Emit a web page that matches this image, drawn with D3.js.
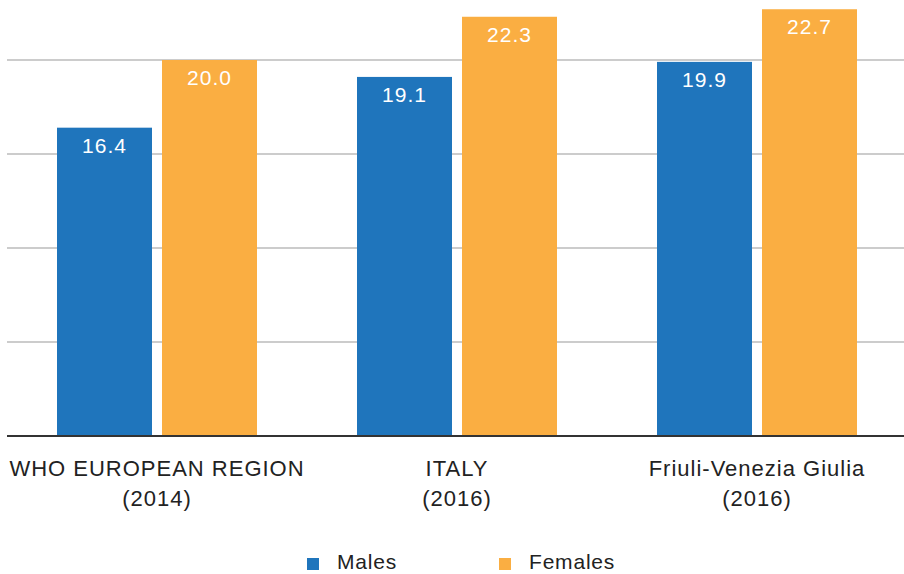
<!DOCTYPE html>
<html>
<head>
<meta charset="utf-8">
<script src="https://cdn.jsdelivr.net/npm/d3@7"></script>
<style>
  body { margin: 0; background: #fff; }
  text { font-family: "Liberation Sans", Arial, sans-serif; }
</style>
</head>
<body>
<div id="chart"></div>
<script>
// categories (two lines each) and series values
var categories = ["WHO EUROPEAN REGION|(2014)", "ITALY|(2016)", "Friuli-Venezia Giulia|(2016)"];
var males = [16.4, 19.1, 19.9];
var females = [20.0, 22.3, 22.7];
var seriesNames = ["Males", "Females"];
var gridTicks = [0, 5, 10, 15, 20];

var colors = {"Males": "#1f75bc", "Females": "#faae42"};

var width = 904, height = 574;
var svg = d3.select("#chart").append("svg")
    .attr("width", width)
    .attr("height", height);

var data = categories.map(function(c, i) {
    return {cat: c, Males: males[i], Females: females[i]};
});

// outer band for groups, inner band for the two bars
var x = d3.scaleBand()
    .domain(categories)
    .range([7, 907]);

var xInner = d3.scaleBand()
    .domain(seriesNames)
    .range([0, x.bandwidth()])
    .paddingInner(10 / 105)
    .paddingOuter(50 / 105);

var y = d3.scaleLinear()
    .domain([0, 20])
    .range([436, 60]);

// gridlines
svg.append("g").selectAll("line")
    .data(gridTicks.filter(function(d) { return d > 0; }))
    .enter().append("line")
    .attr("x1", 7)
    .attr("x2", width)
    .attr("y1", function(d) { return y(d); })
    .attr("y2", function(d) { return y(d); })
    .attr("stroke", "#9a9a9a")
    .attr("stroke-width", 1.2);

var groups = svg.selectAll(".grp")
    .data(data)
    .enter().append("g")
    .attr("class", "grp")
    .attr("transform", function(d) { return "translate(" + x(d.cat) + ",0)"; });

groups.selectAll("rect")
    .data(function(d) { return seriesNames.map(function(k) { return {key: k, value: d[k]}; }); })
    .enter().append("rect")
    .attr("x", function(d) { return xInner(d.key); })
    .attr("y", function(d) { return y(d.value); })
    .attr("width", xInner.bandwidth())
    .attr("height", function(d) { return y(0) - y(d.value); })
    .attr("fill", function(d) { return colors[d.key]; });

// value labels inside bars
groups.selectAll(".val")
    .data(function(d) { return seriesNames.map(function(k) { return {key: k, value: d[k]}; }); })
    .enter().append("text")
    .attr("class", "val")
    .attr("x", function(d) { return xInner(d.key) + xInner.bandwidth() / 2; })
    .attr("y", function(d) { return y(d.value) + 25; })
    .attr("text-anchor", "middle")
    .attr("fill", "#fff")
    .style("font-size", "21px")
    .style("letter-spacing", "1px")
    .text(function(d) { return d.value.toFixed(1); });

// baseline
svg.append("line")
    .attr("x1", 7).attr("x2", width)
    .attr("y1", y(0)).attr("y2", y(0))
    .attr("stroke", "#333")
    .attr("stroke-width", 2.2);

// category labels
var catLabels = svg.selectAll(".cat")
    .data(categories)
    .enter().append("text")
    .attr("class", "cat")
    .attr("text-anchor", "middle")
    .attr("fill", "#222")
    .style("font-size", "22px")
    .style("letter-spacing", "1px");
catLabels.each(function(c) {
    var parts = c.split("|");
    var t = d3.select(this);
    parts.forEach(function(p, i) {
        t.append("tspan")
            .attr("x", x(c) + x.bandwidth() / 2)
            .attr("y", 476 + i * 30)
            .text(p);
    });
});

// legend
var legendX = [307, 499];
var legend = svg.selectAll(".legend")
    .data(seriesNames)
    .enter().append("g")
    .attr("class", "legend")
    .attr("transform", function(d, i) { return "translate(" + legendX[i] + ",558)"; });
legend.append("rect")
    .attr("width", 12)
    .attr("height", 12)
    .attr("fill", function(d) { return colors[d]; });
legend.append("text")
    .attr("x", 30)
    .attr("y", 11)
    .attr("fill", "#222")
    .style("font-size", "21px")
    .style("letter-spacing", "0.8px")
    .text(function(d) { return d; });
</script>
</body>
</html>
